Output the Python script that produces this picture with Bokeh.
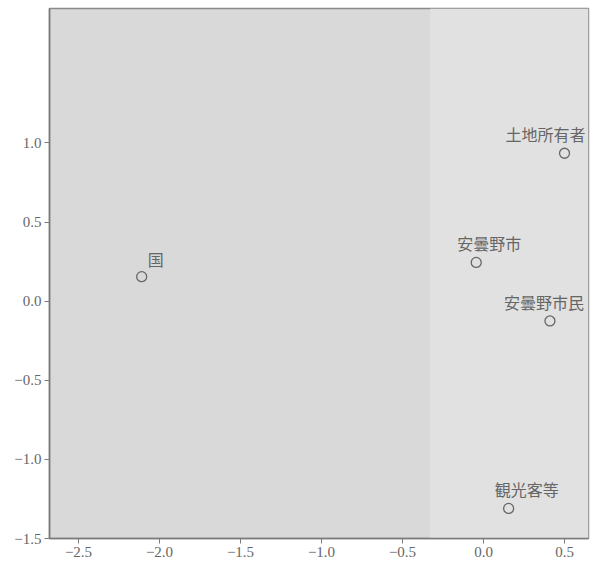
from bokeh.plotting import figure
from bokeh.models import ColumnDataSource, FixedTicker, BoxAnnotation
from bokeh.core.properties import value
from bokeh.embed import file_html
from bokeh.resources import INLINE

# data
names = ["国", "土地所有者", "安曇野市", "安曇野市民", "観光客等"]
xs = [-2.11, 0.50, -0.045, 0.41, 0.155]
ys = [0.155, 0.935, 0.245, -0.125, -1.31]

# label placement (pixel offsets, style only)
label_dx = [6, -59, -19, -46, -14]
label_dy = [-6, -7, -7, -7, -7]

x_ticks = [-2.5, -2.0, -1.5, -1.0, -0.5, 0.0, 0.5]
x_tick_labels = ["−2.5", "−2.0", "−1.5", "−1.0", "−0.5", "0.0", "0.5"]
y_ticks = [-1.5, -1.0, -0.5, 0.0, 0.5, 1.0]
y_tick_labels = ["−1.5", "−1.0", "−0.5", "0.0", "0.5", "1.0"]

src = ColumnDataSource(dict(x=xs, y=ys, name=names, dx=label_dx, dy=label_dy))

p = figure(width=591, height=568, output_backend="svg", toolbar_location=None,
           x_range=(-2.679, 0.648), y_range=(-1.5, 1.85),
           min_border_left=49, min_border_right=3, min_border_top=8, min_border_bottom=30)

p.background_fill_color = "#d9d9d9"
p.border_fill_color = "white"
p.outline_line_color = "#8a8a8a"
p.outline_line_width = 1.5
p.grid.visible = False

# lighter scanned region on the right
p.add_layout(BoxAnnotation(left=-0.33, fill_color="#e1e1e1", fill_alpha=1.0, line_alpha=0, level="underlay"))

for ax, ticks, labels in ((p.xaxis[0], x_ticks, x_tick_labels), (p.yaxis[0], y_ticks, y_tick_labels)):
    ax.ticker = FixedTicker(ticks=ticks)
    ax.major_label_overrides = {t: l for t, l in zip(ticks, labels)}
    ax.minor_tick_line_color = None
    ax.major_tick_in = 0
    ax.major_tick_out = 5
    ax.major_tick_line_color = "#7a7a7a"
    ax.axis_line_color = "#7a7a7a"
    ax.axis_line_width = 1.5
    ax.major_label_text_font = "Liberation Serif"
    ax.major_label_text_font_size = "15px"
    ax.major_label_text_color = "#666666"
    ax.major_label_standoff = 3

p.scatter("x", "y", source=src, size=10, marker="circle", fill_color=None,
          line_color="#666666", line_width=1.3)

p.text("x", "y", text="name", source=src, x_offset="dx", y_offset="dy",
       text_font=value("Noto Sans CJK JP"), text_font_size="16px",
       text_color="#666666", text_align="left", text_baseline="bottom")

open("out.html", "w").write(file_html(p, INLINE))
